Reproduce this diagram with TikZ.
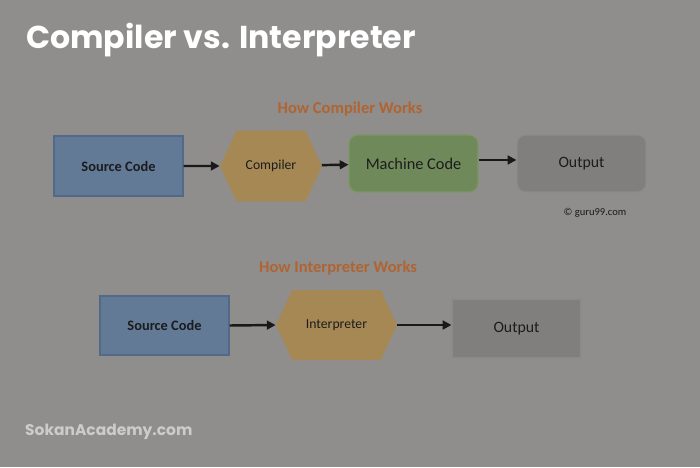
\documentclass[tikz,border=0pt]{standalone}
\usepackage{fontspec}
\setmainfont{Carlito}
\newfontfamily\headfont{Poppins}
\usetikzlibrary{arrows.meta}
\usetikzlibrary{shapes.symbols}
\definecolor{bgcol}{RGB}{143,142,140}
\definecolor{srcfill}{RGB}{98,122,150}
\definecolor{srcline}{RGB}{82,106,136}
\definecolor{hexfill}{RGB}{166,136,84}
\definecolor{machfill}{RGB}{112,137,90}
\definecolor{machline}{RGB}{124,150,100}
\definecolor{outfill}{RGB}{128,127,126}
\definecolor{outline}{RGB}{140,139,138}
\definecolor{headcol}{RGB}{176,100,50}
\definecolor{inkcol}{RGB}{28,28,30}
\tikzset{
    srcbox/.style={rectangle, fill=srcfill, draw=srcline, line width=0.6pt,
        minimum width=2.58cm, minimum height=1.2cm, text=inkcol,
        font=\fontsize{8.2}{10}\selectfont\bfseries},
    hexbox/.style={signal, signal to=west and east, signal pointer angle=130,
        fill=hexfill, text=inkcol, inner xsep=0pt,
        font=\fontsize{7.8}{10}\selectfont},
    machbox/.style={rectangle, rounded corners=5pt, fill=machfill, draw=machline,
        line width=0.6pt, minimum width=2.58cm, minimum height=1.14cm,
        text=inkcol, font=\fontsize{9.3}{11}\selectfont},
    outbox/.style={rectangle, fill=outfill, draw=outline, line width=0.6pt,
        minimum width=2.58cm, minimum height=1.16cm, text=inkcol,
        font=\fontsize{9}{11}\selectfont},
    headline/.style={text=headcol, font=\fontsize{9.4}{11}\selectfont\bfseries},
    link/.style={-{Triangle[length=5pt,width=5pt]}, line width=1.4pt, black!90}
}
\begin{document}
\begin{tikzpicture}[x=0.02cm,y=-0.02cm]
    \fill[bgcol] (0,0) rectangle (700,467);
    \useasboundingbox (0,0) rectangle (700,467);

    \node[anchor=west, text=white, font=\headfont\fontsize{18}{21}\selectfont\bfseries] (title) at (20,40) {Compiler vs. Interpreter};
    \node[anchor=west, text=black!20, font=\headfont\fontsize{8.8}{10}\selectfont\bfseries] (site) at (19,432) {SokanAcademy.com};

    \node[headline] (chead) at (350,109) {How Compiler Works};
    \node[srcbox] (csrc) at (118.5,166) {Source Code};
    \node[hexbox, minimum width=2.04cm, minimum height=1.42cm] (comp) at (271,166) {Compiler};
    \node[machbox] (mach) at (413.5,163.5) {Machine Code};
    \node[outbox, rounded corners=5pt, minimum height=1.14cm] (cout) at (581.5,163.5) {Output};
    \node[font=\fontsize{6}{7}\selectfont, text=black!90] (copy) at (595,213) {© guru99.com};

    \draw[link] (csrc) -- (comp);
    \draw[link] (comp) -- (mach);
    \draw[link] ([yshift=2pt]mach.east) -- ([yshift=2pt]cout.west);

    \node[headline] (ihead) at (338,268) {How Interpreter Works};
    \node[srcbox, minimum height=1.18cm] (isrc) at (164.5,325.5) {Source Code};
    \node[hexbox, minimum width=2.42cm, minimum height=1.4cm] (interp) at (336.5,325) {Interpreter};
    \node[outbox, minimum height=1.18cm] (iout) at (516.5,328.5) {Output};

    \draw[link] (isrc.east) -- (interp.west);
    \draw[link] (interp.east) -- (interp.east -| iout.west);
\end{tikzpicture}
\end{document}
